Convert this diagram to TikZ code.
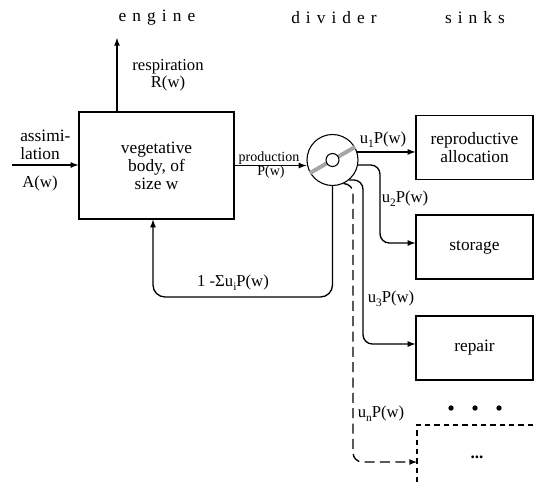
\documentclass[tikz,border=0pt]{standalone}
\usepackage{fontspec}
\setmainfont{Liberation Serif}
\newfontfamily\headfont[LetterSpace=35]{Liberation Serif}
\usepackage{tikz}
\usetikzlibrary{arrows}

\newcommand{\lowsub}[1]{\raisebox{-3pt}{\fontsize{8.5}{8.5}\selectfont #1}}

\tikzset{
  sink/.style={draw, line width=0.9pt, minimum width=87.75pt, minimum height=48pt, align=center},
  flow/.style={->, >=latex, line width=1pt, rounded corners=7pt},
  lbl/.style={inner sep=0pt, align=center, font=\fontsize{12.5}{13}\selectfont},
}

\begin{document}
\begin{tikzpicture}[x=0.75pt, y=-0.75pt, font=\fontsize{13}{13.5}\selectfont]
  \useasboundingbox (0,0) rectangle (534,486);
  \node (engine) at (157,18) {\headfont engine};
  \node (divider) at (334,18) {\headfont divider};
  \node (sinks) at (475,18) {\headfont sinks};

  \node[draw, line width=0.9pt, minimum width=116.25pt, minimum height=80.25pt, align=center] (body) at (156.5,165.5) {vegetative\\body, of\\size w};
  \node[draw, circle, line width=0.8pt, minimum size=38.25pt, inner sep=0pt] (div) at (332.5,160) {};
  \draw[gray!70, line width=3pt] (div.210) -- (div.30);
  \node[draw, circle, fill=white, line width=0.8pt, minimum size=9.75pt, inner sep=0pt] (hub) at (div) {};

  \node[sink] (repro) at (474.5,147.5) {reproductive\\allocation};
  \node[sink] (store) at (474.5,247) {storage};
  \node[sink] (repair) at (474.5,348) {repair};
  \coordinate (more) at (417,425);
  \draw[line width=0.9pt, dash pattern=on 4pt off 3pt] (533,425) -- (more) -- (417,486);
  \node (etc) at (477,457) {\textbf{...}};
  \foreach \x in {451,475,499}
    \fill (\x,408) circle [radius=2pt];

  \coordinate (ain) at (12,165);
  \draw[flow] (ain) -- (ain -| body.west);
  \coordinate (rout) at (117,38);
  \draw[flow] (rout |- body.north) -- (rout);
  \draw[flow] (body.east) -- (div.west |- body.east);
  \draw[flow] (div.18) -- (div.18 -| repro.west);
  \coordinate (k2) at (380,243);
  \draw[flow] (div.-11) -| (k2) -- (k2 -| store.west);
  \coordinate (k3) at (363,344);
  \draw[flow] (div.-50) -| (k3) -- (k3 -| repair.west);
  \coordinate (kn) at (353,462);
  \draw[flow, dash pattern=on 7.5pt off 4pt] (div.-65) -| (kn) -- (kn -| more);
  \coordinate (fbk) at (153,297);
  \draw[flow, rounded corners=9pt] (div.south) |- (fbk) -- (fbk |- body.south);

  \node[lbl] (resp) at (168,75) {respiration\\R(w)};
  \node[lbl, align=left, anchor=west, font=\fontsize{13}{13.5}\selectfont] (assim) at (20,145) {assimi-\\lation};
  \node[lbl] (aw) at (40,183) {A(w)};
  \node[lbl, font=\fontsize{10.5}{11}\selectfont] (prod) at (269,158) {production};
  \node[lbl, font=\fontsize{10.5}{11}\selectfont] (pw) at (271,172) {P(w)};
  \node[lbl] (u1) at (383,140) {u\lowsub{1}P(w)};
  \node[lbl] (u2) at (405,199) {u\lowsub{2}P(w)};
  \node[lbl] (u3) at (391,299) {u\lowsub{3}P(w)};
  \node[lbl] (un) at (381,414) {u\lowsub{n}P(w)};
  \node[lbl] (share) at (233,283) {1 -Σu\lowsub{i}P(w)};
\end{tikzpicture}
\end{document}
